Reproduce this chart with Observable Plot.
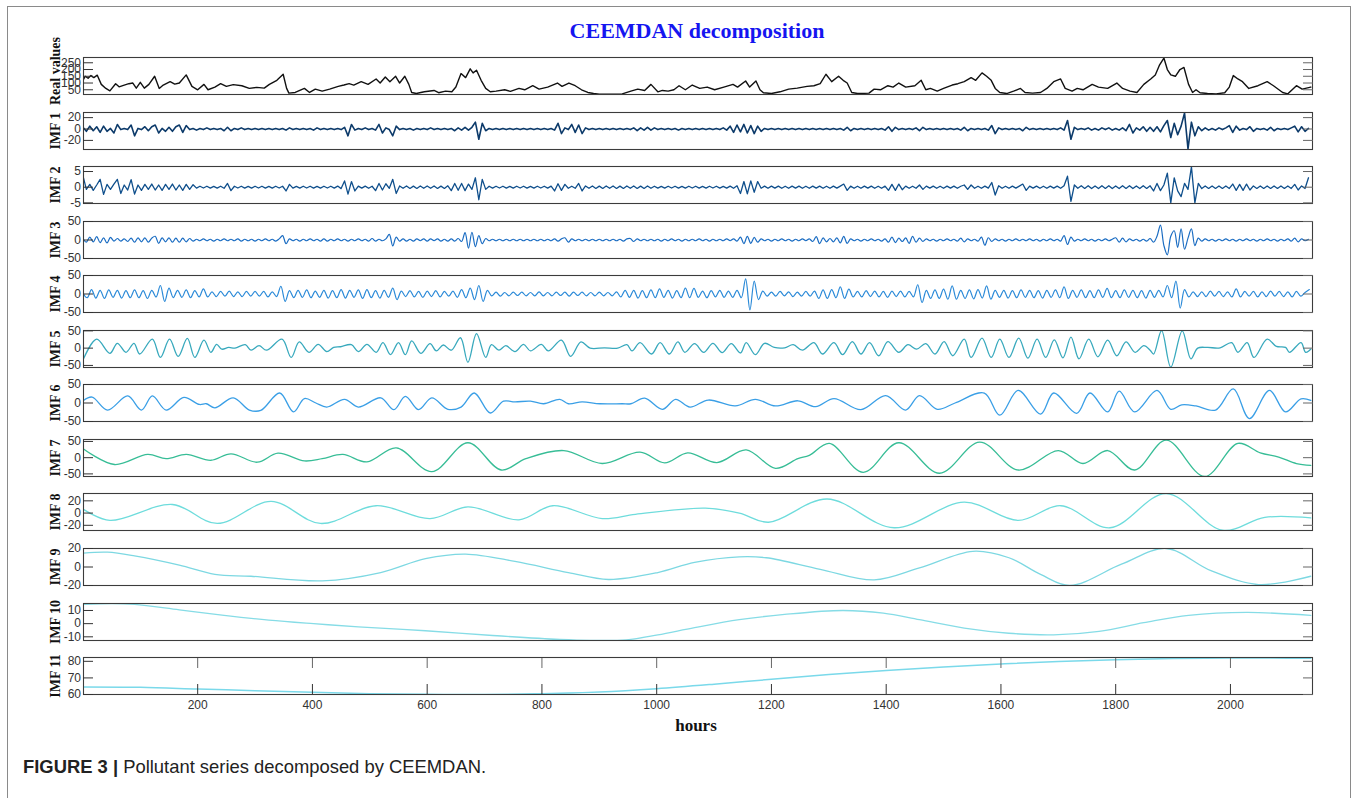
<!DOCTYPE html>
<html>
<head>
<meta charset="utf-8">
<script src="https://cdn.jsdelivr.net/npm/d3@7"></script>
<script src="https://cdn.jsdelivr.net/npm/@observablehq/plot@0.6"></script>
<style>
  html, body { margin: 0; padding: 0; background: #fff; }
  #page { position: relative; width: 1356px; height: 798px; overflow: hidden; background: #fff; }
  #border { position: absolute; left: 7px; top: 6px; width: 1342px; height: 820px;
            border-left: 1.5px solid #8a8a8a; border-top: 1.5px solid #8a8a8a; border-right: 1.5px solid #8a8a8a; }
  #title { position: absolute; left: 0; top: 20px; width: 1394px; text-align: center;
           font: bold 22px/22px "Liberation Serif", "Times New Roman", serif; color: #1515f0; }
  #xlabel { position: absolute; left: 0; top: 717px; width: 1392px; text-align: center;
            font: bold 17px/17px "Liberation Serif", "Times New Roman", serif; color: #111; }
  #caption { position: absolute; left: 23px; top: 758px; font: 18.4px/18px "Liberation Sans", Arial, sans-serif; color: #222; }
  #caption b { font-weight: bold; }
  svg { overflow: visible; }
</style>
</head>
<body>
<div id="page">
  <div id="border"></div>
  <div id="title">CEEMDAN decomposition</div>
  <div id="xlabel">hours</div>
  <div id="caption"><b>FIGURE 3 |</b> Pollutant series decomposed by CEEMDAN.</div>
</div>
<script>
// ---------------- DATA ----------------
const xTicks = [200, 400, 600, 800, 1000, 1200, 1400, 1600, 1800, 2000];

const realHours = [0,4,9,14,19,25,32,40,47,57,63,72,80,87,93,100,107,115,125,133,140,152,160,168,180,190,200,211,218,230,240,250,262,277,290,303,316,325,338,349,355,359,370,386,395,405,417,430,445,455,464,472,485,497,511,518,527,535,545,552,561,568,573,581,595,612,620,632,643,650,659,667,675,680,686,694,702,710,720,735,745,760,770,784,795,810,827,835,847,858,869,880,890,900,920,940,955,967,979,990,1002,1010,1020,1030,1039,1050,1062,1075,1088,1101,1117,1133,1141,1155,1162,1173,1180,1186,1200,1215,1230,1245,1262,1274,1285,1295,1305,1317,1325,1332,1340,1350,1370,1379,1390,1403,1412,1422,1434,1450,1461,1469,1477,1489,1500,1515,1525,1536,1548,1556,1567,1575,1583,1590,1598,1610,1622,1634,1642,1655,1669,1680,1692,1704,1712,1724,1733,1743,1759,1770,1786,1802,1812,1825,1837,1849,1861,1869,1876,1884,1890,1896,1904,1912,1919,1927,1934,1940,1947,1960,1975,1990,1998,2005,2013,2021,2032,2048,2064,2075,2091,2100,2115,2125,2140];
const realValues = [120,150,135,155,140,158,90,60,42,95,72,85,95,100,62,105,62,90,150,60,85,110,92,100,160,75,50,90,50,70,95,75,88,80,60,68,62,90,120,165,60,25,30,60,30,55,40,55,75,85,95,85,110,90,130,100,145,110,150,100,150,90,30,22,35,45,28,40,35,70,170,140,205,175,195,120,60,35,40,50,38,60,50,80,55,70,100,75,100,80,50,30,22,18,18,20,40,55,45,90,35,45,40,50,80,50,85,60,70,50,70,90,70,115,70,115,50,28,22,35,55,62,75,80,95,165,110,150,120,100,30,22,25,55,50,80,70,100,70,80,120,50,60,40,60,85,95,110,140,120,175,150,120,60,30,22,40,60,30,25,30,60,110,130,60,40,60,50,90,70,60,100,60,40,30,90,130,160,230,285,200,160,150,200,215,90,30,50,28,22,20,28,70,155,130,110,60,80,110,80,30,20,80,55,70];

// IMF 1-3: one reading every 6 hours
const imf1 = [3,-4,5,-3,4,-6,5,-4,1,-7,
8,-1,1,-1,7,-12,1,-1,4,-3,
4,7,-7,1,-4,3,-4,4,7,-6,
6,-1,1,-2,1,-1,2,-1,1,-1,
1,-3,3,-3,1,-1,2,-1,1,-1,
1,-1,1,-1,1,-1,1,-1,1,-2,
2,-1,1,-1,1,-1,1,-2,2,-1,
1,-1,1,-1,1,-1,3,-12,8,-2,
1,-1,2,-1,1,-2,8,-7,2,-1,
-12,5,-1,1,-1,1,-2,1,-1,1,
-1,2,-1,1,-1,1,-1,1,-3,2,
-2,3,-2,3,12,-18,10,-3,1,-1,
1,-1,1,-1,1,-1,1,-1,1,-1,
1,-1,1,-1,1,-1,1,-2,10,-8,
2,-1,8,-6,7,-8,2,-1,1,-1,
1,-1,1,-1,1,-1,1,-1,1,-1,
2,-3,2,-2,3,-2,2,-1,1,-1,
1,-1,1,-2,1,-1,1,-1,1,-1,
1,-1,1,-1,1,-1,2,-2,5,-6,
7,-5,8,-7,6,-8,5,-4,1,-1,
1,-1,1,-1,1,-1,1,-1,1,-1,
1,-1,1,-1,1,-1,1,-1,1,-1,
1,-2,3,-3,1,-1,1,-1,1,-1,
1,-1,1,-2,4,-4,3,-1,1,-1,
1,-1,2,-3,3,-1,1,-1,1,-1,
1,-1,1,-1,1,-2,3,-3,1,-1,
1,-1,1,-2,6,-8,2,-1,1,-1,
1,-1,1,-3,3,-1,1,-1,1,-1,
1,-1,1,-1,2,-2,15,-18,3,-1,
1,-1,2,-2,1,-2,2,-1,2,-2,
1,-2,2,-3,8,-7,2,-2,4,-4,
3,-4,4,-5,6,15,-15,10,-10,5,
28,-35,12,-12,4,-3,2,-2,1,-2,
2,-1,2,6,-6,5,-2,1,-1,4,
-4,1,-1,1,-2,3,-3,1,-1,1,
-1,2,5,-5,4,-4,1];

const imf2 = [3.7,-0.7,0.9,-1,0.7,2.5,-2.3,0.9,-0.7,1,
2.5,-2,0.7,-0.9,2.4,-2.2,0.7,-1,0.9,-0.7,
1,-0.9,0.7,-1,0.9,-0.7,1,-0.9,0.7,-1,
0.9,-0.7,0.8,-0.3,0.3,-0.25,0.3,-0.3,0.25,-0.3,
0.3,-0.35,1.2,-1.1,0.3,-0.25,0.3,-0.3,0.25,-0.3,
0.3,-0.25,0.3,-0.3,0.25,-0.3,0.3,-0.25,0.3,-1.2,
0.9,-0.3,0.25,-0.3,0.3,-0.25,0.3,-0.3,0.25,-0.3,
0.3,-0.25,0.3,-0.3,0.35,-0.45,2,-2.2,1.8,-1.2,
0.35,-0.3,0.35,-0.35,0.3,-1.1,1.2,-0.9,1.1,-0.35,
2.5,-2,0.4,-0.35,0.4,-0.4,0.35,-0.4,0.4,-0.35,
0.4,-0.35,0.4,-0.4,0.35,-0.4,0.45,-1.1,1.2,-1,
1.2,-1.1,1,-0.7,3,-4,2.5,-0.7,0.3,-0.3,
0.3,-0.25,0.3,-0.3,0.25,-0.3,0.3,-0.25,0.3,-0.3,
0.25,-0.3,0.3,-0.25,0.3,-0.3,0.35,-1.2,1.1,-1,
0.9,-0.35,0.3,-0.35,1.2,-1.2,0.4,-0.35,0.4,-0.4,
0.35,-0.4,0.4,-0.35,0.4,-0.4,0.35,-0.4,0.4,-0.35,
0.4,-0.4,0.35,-0.4,0.4,-0.35,0.3,-0.3,0.25,-0.3,
0.3,-0.25,0.3,-0.3,0.25,-0.3,0.3,-0.25,0.3,-0.3,
0.25,-0.3,0.3,-0.25,0.3,-0.3,0.25,-0.3,0.35,-0.35,
0.45,-2,1.8,-2.1,2,-1.6,1.8,-0.35,0.35,-0.35,
0.35,-0.3,0.35,-0.35,0.3,-0.35,0.35,-0.3,0.35,-0.35,
0.3,-0.35,0.35,-0.3,0.35,-0.35,0.3,-0.35,0.35,-0.3,
0.35,1,-1,0.35,-0.35,0.3,-0.35,0.35,-0.3,0.35,
-0.35,0.3,-0.35,0.35,-1,0.9,-1,1,-0.8,0.35,
-0.35,0.3,-0.35,0.7,-0.7,0.35,-0.3,0.35,-0.35,0.3,
-0.35,0.35,-0.3,0.35,-0.35,0.3,0.7,-0.7,0.7,-0.35,
0.3,-0.35,0.35,-0.3,1.5,-2.5,0.45,-0.35,0.3,-0.35,
0.35,-0.3,0.35,1,-1,0.35,-0.3,0.35,-0.35,0.3,
-0.35,0.35,-0.3,0.35,-0.35,0.45,3.5,-4.5,0.7,-0.35,
0.45,-0.4,0.45,-0.45,0.4,-0.45,0.45,-0.4,0.45,-0.45,
0.4,-0.45,0.45,-0.4,0.45,-0.45,0.4,-0.45,0.45,-0.4,
0.45,-1.2,1.2,-1.1,0.7,4.5,-5,3,-1.2,-3,
1.2,-0.7,6.5,-5,1.2,-0.45,0.4,-0.4,0.4,-0.4,
0.4,-0.4,0.4,-0.4,1,-1,0.9,-1,1,-0.9,
0.4,-0.4,0.4,-0.4,0.4,-0.4,0.4,-0.4,0.4,-0.4,
0.4,-0.4,0.9,-0.9,0.4,-0.4,3];

const imf3 = [4,-6,8,-5,9,-7,6,-8,7,-3,
4,-3,3,-4,5,-6,6,-5,6,-6,
5,10,-9,6,-5,6,-6,5,-6,5,
-5,4,-3,2,-2,3,-2,2,-3,2,
-2,3,-2,2,-2,3,-3,2,-2,2,
-3,2,-2,3,-2,2,-3,3,12,-10,
3,-2,2,-3,2,-2,3,-2,2,-3,
3,-3,2,-2,3,-2,2,-3,2,-2,
3,-2,2,-3,4,-3,2,-2,3,15,
-16,8,-3,3,-3,2,-3,3,-2,3,
-3,3,-2,3,-3,2,-3,3,-3,4,
-4,20,-22,21,-18,12,-10,4,-2,2,
-2,2,-2,2,-2,2,-2,2,-2,2,
-2,2,-2,2,-2,2,-2,3,-3,3,
6,-6,3,-2,2,-2,2,-2,2,-2,
2,-2,2,-2,2,-2,2,-3,3,4,
-4,3,-2,2,-2,2,-2,2,-3,2,
-2,3,-2,2,-3,2,-2,2,-2,3,
-2,2,-3,2,-2,2,-2,3,-2,3,
-3,8,-10,10,-9,7,-6,3,-2,2,
-3,2,-2,3,-2,2,-3,2,-2,3,
-2,3,-4,9,-10,6,-5,4,-5,6,
-8,10,-9,3,-2,2,-3,2,-2,3,
-2,2,-3,3,-6,8,-7,5,-4,6,
-9,10,-6,5,-4,3,-2,2,-3,2,
-2,3,-2,2,-3,5,-5,3,-2,2,
-3,8,-14,6,-4,3,-2,2,-3,2,
-2,3,-2,2,-2,3,-2,2,-3,2,
-2,3,-2,2,-3,12,-12,8,-3,2,
-2,3,-2,2,-3,2,-2,3,-2,2,
6,-6,5,-5,3,-2,2,-3,2,-3,
4,-6,10,40,-15,-40,10,25,-20,30,
-25,5,30,-15,5,-3,3,-2,2,-3,
2,-2,3,-2,2,-3,2,-2,3,-2,
2,-3,2,-2,3,-2,2,-3,2,-2,
3,-3,5,-5,3,-2,2];

// IMF 4: one reading every 7.5 hours (successive peaks and troughs)
const imf4 = [2,-10,12,-11,10,-12,11,-9,10,-11,
9,-10,11,-10,9,-12,10,-8,23,-20,
16,-10,10,-9,11,-10,9,-8,14,-8,
6,-7,7,-6,8,-7,6,-7,7,-6,
7,-6,7,-8,6,-7,21,-20,9,-10,
10,-9,11,-10,8,-9,10,-11,9,-10,
12,-11,10,-9,11,-12,12,-10,9,-11,
10,-9,16,-15,8,-7,9,-8,7,-9,
8,-7,9,-8,7,-6,8,-9,12,-10,
16,-15,23,-20,10,-5,5,-6,4,-5,
5,-4,5,-5,4,-5,6,-5,4,-5,
5,-4,5,-6,5,-4,5,-5,4,-5,
5,-5,4,-5,6,-8,10,-9,10,-11,
9,-10,11,-10,14,-9,10,-11,9,-10,
16,-10,15,-9,8,-10,9,-8,10,-9,
8,-9,10,-10,41,-43,35,-15,8,-6,
5,-6,7,-5,6,-7,5,-6,7,-6,
8,-12,11,-12,12,-10,19,-12,13,-8,
7,-8,9,-7,8,-8,7,-9,8,-7,
8,-8,7,-8,25,-23,10,-12,11,-12,
13,-14,22,-14,10,-12,11,-13,12,-11,
22,-14,10,-9,10,-11,9,-10,11,-9,
10,-10,9,-11,10,-9,11,-10,19,-12,
10,-9,11,-10,9,-10,11,-9,15,-10,
9,-10,11,-9,10,-10,9,-11,10,-9,
10,-8,23,-10,35,-38,12,-8,6,-7,
6,-7,8,-6,7,-7,6,-8,14,-8,
7,-6,7,-8,6,-7,8,-6,7,-7,
6,-8,7,-6,4,12];

const imf5Hours = [1,24,47,60,75,89,99,121,135,151,166,182,195,211,223,233,242,254,265,283,293,307,320,347,363,377,394,410,425,437,449,468,480,495,511,523,536,550,562,573,589,605,616,628,642,658,671,686,702,712,725,737,753,768,780,799,811,834,850,868,884,909,932,948,957,971,991,1006,1022,1037,1049,1066,1082,1098,1114,1130,1146,1156,1172,1188,1205,1223,1238,1254,1274,1289,1309,1324,1341,1356,1371,1387,1403,1422,1438,1453,1469,1485,1501,1516,1536,1548,1567,1583,1598,1614,1631,1647,1663,1678,1693,1708,1722,1736,1753,1769,1786,1802,1818,1834,1849,1860,1866,1880,1896,1916,1931,1943,1960,1982,2002,2013,2029,2041,2064,2080,2096,2103,2123,2131,2140];
const imf5Values = [-31,26,-15,14,-12,14,-17,26,-27,26,-24,28,-27,23,-12,11,-3,2,0,10,-6,7,-6,26,-27,18,-12,11,-10,2,4,10,-10,11,-12,16,-19,16,-19,21,-15,13,-8,9,-6,30,-41,42,-27,10,-6,7,-10,11,-8,11,-8,23,-24,18,0,1,0,10,-8,16,-17,16,-17,18,-12,13,-12,14,-13,13,-14,16,-19,14,2,1,10,-6,16,-17,16,-19,19,-17,16,-22,19,-12,10,-3,13,-17,19,-22,26,-27,29,-27,26,-27,29,-29,26,-27,24,-28,32,-31,26,-25,23,-22,18,-12,7,-6,-17,51,-55,50,-31,0,2,1,16,-12,16,-27,26,5,2,-12,16,-12,-3];

const imf6Hours = [1,16,43,78,102,121,145,176,203,215,230,262,290,310,343,367,386,406,425,456,480,519,542,562,585,608,636,659,682,710,733,753,780,803,831,846,870,901,940,955,979,1010,1033,1058,1090,1137,1172,1207,1246,1277,1309,1356,1399,1434,1458,1489,1520,1571,1598,1630,1669,1692,1732,1755,1786,1806,1833,1872,1896,1915,1940,1974,2005,2033,2068,2096,2123,2140];
const imf6Values = [7,16,-19,19,-19,19,-19,15,-4,-2,-13,14,-19,-20,27,-24,12,0,-11,10,-11,14,-18,18,-18,14,-17,-11,27,-27,5,3,5,-2,10,-2,3,-2,-2,-2,13,-17,10,-11,8,-8,10,-8,6,-10,12,-18,20,-19,20,-17,0,27,-33,34,-30,27,-28,27,-24,32,-24,34,-17,-5,-8,-19,38,-42,34,-24,11,7];

const imf7Hours = [1,55,113,145,180,223,258,304,340,386,417,453,495,546,608,671,729,772,838,905,971,1014,1054,1105,1156,1207,1246,1266,1301,1360,1422,1493,1563,1630,1700,1743,1786,1833,1888,1955,2013,2052,2084,2115,2140];
const imf7Values = [27,-21,10,-3,10,-8,12,-14,14,-10,-3,10,-13,30,-43,46,-38,-3,22,-18,17,-16,15,-15,24,-33,-3,7,44,-45,46,-48,48,-38,22,-18,22,-38,54,-58,44,15,2,-18,-24];

const imf8Hours = [1,47,156,234,328,414,511,605,671,760,819,905,963,1085,1144,1195,1297,1414,1536,1630,1704,1790,1888,1986,2060,2140];
const imf8Values = [6,-12,14,-17,19,-17,12,-9,10,-11,12,-9,-2,8,0,-15,23,-24,18,-12,12,-24,32,-28,-7,-8];

const imf9Hours = [1,43,90,168,230,293,417,519,597,667,753,846,916,1002,1066,1144,1191,1285,1379,1458,1551,1614,1669,1720,1810,1888,1966,2049,2140];
const imf9Values = [15,16,12,2,-8,-10,-15,-6,9,14,6,-6,-13.5,-6,5,11,10,-2.5,-14,-1,17,10,-8,-20,3,20,-4,-19,-10];

const imf10Hours = [1,51,90,168,246,324,402,480,597,714,831,885,947,1002,1066,1144,1223,1324,1395,1458,1536,1614,1692,1771,1849,1927,2029,2140];
const imf10Values = [14.6,15.3,14.6,10.5,6.3,2.7,0,-2.4,-5.4,-9,-12,-12.7,-12.3,-8.5,-3,3,7,10,8,3,-3.4,-7.3,-8.5,-5.8,0.7,6.3,8.5,6.3];

const imf11Hours = [1,100,200,300,400,500,600,700,800,900,1000,1100,1200,1300,1400,1500,1600,1700,1800,1900,2000,2100,2140];
const imf11Values = [64.5,64.3,63.3,62.3,61.3,60.5,60.1,60,60.5,61.5,63.5,66.2,69.2,72,74.5,76.6,78.4,79.9,81,81.7,82,81.9,81.8];

// ---------------- CHART ----------------
const stepHours = (arr, step) => arr.map((_, i) => i * step);

const panels = [
  {label: "Real values", hours: realHours, values: realValues, domain: [15, 289], ticks: [50, 100, 150, 200, 250], color: "#111111", sw: 1.4, curve: "linear", labelShift: -5},
  {label: "IMF 1", hours: stepHours(imf1, 6), values: imf1, domain: [-36, 29], ticks: [-20, 0, 20], color: "#0c3a6a", sw: 1.6, curve: "linear"},
  {label: "IMF 2", hours: stepHours(imf2, 6), values: imf2, domain: [-5.2, 6.6], ticks: [-5, 0, 5], color: "#0f4f8c", sw: 1.3, curve: "linear"},
  {label: "IMF 3", hours: stepHours(imf3, 6), values: imf3, domain: [-50, 50], ticks: [-50, 0, 50], color: "#1a6cc2", sw: 1.2, curve: "catmull-rom"},
  {label: "IMF 4", hours: stepHours(imf4, 7.5), values: imf4, domain: [-50, 50], ticks: [-50, 0, 50], color: "#2b8ad8", sw: 1.2, curve: "catmull-rom"},
  {label: "IMF 5", hours: imf5Hours, values: imf5Values, domain: [-56, 51], ticks: [-50, 0, 50], color: "#38a9bd", sw: 1.3, curve: "catmull-rom"},
  {label: "IMF 6", hours: imf6Hours, values: imf6Values, domain: [-50, 50], ticks: [-50, 0, 50], color: "#3a9fe6", sw: 1.3, curve: "catmull-rom"},
  {label: "IMF 7", hours: imf7Hours, values: imf7Values, domain: [-58, 56], ticks: [-50, 0, 50], color: "#37bd96", sw: 1.3, curve: "catmull-rom"},
  {label: "IMF 8", hours: imf8Hours, values: imf8Values, domain: [-28.5, 32], ticks: [-20, 0, 20], color: "#6edcdc", sw: 1.3, curve: "catmull-rom"},
  {label: "IMF 9", hours: imf9Hours, values: imf9Values, domain: [-20, 20], ticks: [-20, 0, 20], color: "#7dd8e2", sw: 1.3, curve: "catmull-rom"},
  {label: "IMF 10", hours: imf10Hours, values: imf10Values, domain: [-12.8, 15.3], ticks: [-10, 0, 10], color: "#86dce6", sw: 1.3, curve: "catmull-rom"},
  {label: "IMF 11", hours: imf11Hours, values: imf11Values, domain: [60, 82.3], ticks: [60, 70, 80], color: "#7ad9ea", sw: 1.5, curve: "catmull-rom"}
];

const page = document.getElementById("page");
const PANEL_H = 37;
const xDomain = [1, 2143];

panels.forEach((p, i) => {
  const last = i === panels.length - 1;
  const mt = 8, mb = last ? 30 : 8;
  const top = Math.round(57 + i * 54.55);
  const data = p.hours.map((h, k) => ({h, v: p.values[k]}));
  const marks = [
    Plot.line(data, {x: "h", y: "v", stroke: p.color, strokeWidth: p.sw, curve: p.curve, clip: true}),
    Plot.frame({stroke: "#3c3c3c", strokeWidth: 1.1}),
    Plot.axisY({anchor: "left", ticks: p.ticks, tickSize: -10, tickPadding: 12.5, tickFormat: d => String(d),
                label: null, color: "#333", fontSize: 12}),
    Plot.axisY({anchor: "right", ticks: p.ticks, tickSize: -10, tickFormat: () => "", label: null, color: "#666"}),
    Plot.text([p.label], {frameAnchor: "left", dx: -28, dy: p.labelShift || 0, rotate: -90, textAnchor: "middle", lineAnchor: "middle",
                          fontFamily: "'Liberation Serif', 'Times New Roman', serif",
                          fontWeight: "bold", fontSize: 14, fill: "#111"})
  ];
  if (last) {
    marks.push(Plot.axisX({anchor: "bottom", ticks: xTicks, tickSize: -10, tickPadding: 16, tickFormat: d => String(d),
                           label: null, color: "#333", fontSize: 12}));
    marks.push(Plot.axisX({anchor: "top", ticks: xTicks, tickSize: -10, tickFormat: () => "", label: null, color: "#666"}));
  }
  const svg = Plot.plot({
    width: 1356,
    height: PANEL_H + mt + mb,
    marginLeft: 83, marginRight: 44, marginTop: mt, marginBottom: mb,
    x: last ? {domain: xDomain} : {domain: xDomain, axis: null},
    y: {domain: p.domain},
    style: {fontFamily: "'Liberation Sans', Arial, sans-serif", fontSize: "12px", background: "transparent", overflow: "visible", color: "#333"},
    marks
  });
  svg.style.position = "absolute";
  svg.style.left = "0px";
  svg.style.top = (top - mt) + "px";
  page.appendChild(svg);
});
</script>
</body>
</html>
